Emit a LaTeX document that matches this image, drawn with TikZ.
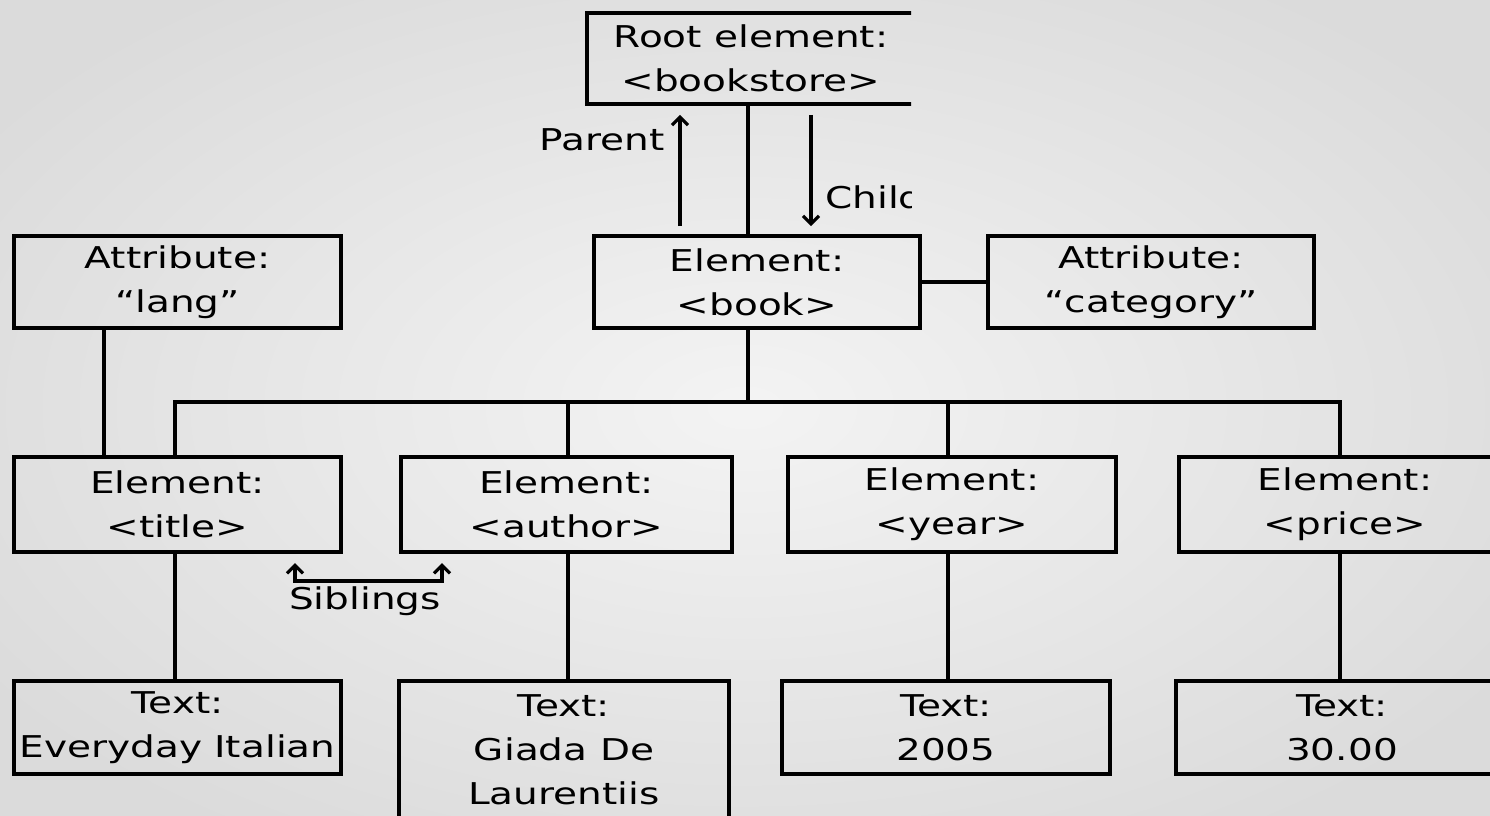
\documentclass[tikz,border=0pt]{standalone}
\usepackage{fontspec}
\newfontfamily\pixfont[FakeStretch=1.3]{DejaVu Sans}
\usetikzlibrary{arrows.meta,positioning}

\begin{document}
\begin{tikzpicture}[x=1pt,y=-1pt,
    box/.style={draw,line width=3.8pt,minimum height=92pt,inner sep=0pt,align=center,font=\pixfont\fontsize{30}{44}\selectfont},
    link/.style={line width=3.8pt},
    tip/.style={line width=3.2pt,-{Straight Barb[length=8pt,width=16pt]}},
    tips/.style={line width=3.2pt,{Straight Barb[length=8pt,width=16pt]}-{Straight Barb[length=8pt,width=16pt]}},
    lbl/.style={font=\pixfont\fontsize{30}{36}\selectfont,inner sep=0pt}]
  \clip (0,0) rectangle (1490,815);
  \shade[inner color=gray!9,outer color=gray!28] (-150,-100) rectangle (1640,915);

  \begin{scope}
    \clip (0,0) rectangle (911,230);
    \node[box,minimum width=328pt,minimum height=91pt] (root) at (751,58.5) {Root element:\\<bookstore>};
    \node[lbl,anchor=west] (child) at (825,197) {Child};
  \end{scope}

  \node[box,minimum width=326pt] (book) at (757,282) {Element:\\<book>};
  \node[box,minimum width=327pt] (lang) at (177.5,282) {Attribute:\\“lang”};
  \node[box,minimum width=326pt] (cat) at (1151,282) {Attribute:\\“category”};

  \foreach \x/\w/\tag [count=\n] in {177.5/327/title,566.5/331/author,952/328/year,1345/332/price}
    \node[box,minimum width=\w pt,minimum height=95pt] (E\n) at (\x,504.5) {Element:\\<\tag>};

  \node[box,minimum width=327pt,minimum height=93pt] (T1) at (177.5,727.5) {Text:\\Everyday Italian};
  \node[box,minimum width=330pt,minimum height=137pt] (T2) at (564,749.5) {Text:\\Giada De\\Laurentiis};
  \node[box,minimum width=328pt,minimum height=93pt] (T3) at (946,727.5) {Text:\\2005};
  \node[box,minimum width=332pt,minimum height=93pt] (T4) at (1342,727.5) {Text:\\30.00};

  \coordinate (bus) at (0,402);
  \coordinate (mx) at (748,0);
  \coordinate (lx) at (104,0);
  \coordinate (px) at (680,0);
  \coordinate (cx) at (811,0);

  \draw[link] (root.south -| mx) -- (book.north -| mx);
  \draw[link] (book.south -| mx) -- (bus -| mx);
  \foreach \x [count=\n] in {175,568,948,1340} {
    \coordinate (L\n) at (\x,402);
    \draw[link] (L\n) -- (E\n.north -| L\n) (E\n.south -| L\n) -- (T\n.north -| L\n);
  }
  \draw[link] (E1.north -| L1) -- (L1) -- (L4) -- (E4.north -| L4);
  \draw[link] (book.east) -- (cat.west);
  \draw[link] (lang.south -| lx) -- (E1.north -| lx);

  \draw[tip,shorten <=8pt,shorten >=9pt] (px |- book.north) -- (px |- root.south);
  \draw[tip,shorten <=9pt,shorten >=8pt] (cx |- root.south) -- (cx |- book.north);
  \node[lbl,anchor=east] (parent) at (665,140) {Parent};

  \coordinate (sibL) at (295,563);
  \coordinate (sibR) at (442,563);
  \coordinate (sibB) at (0,581);
  \draw[tips] (sibL) |- (sibB -| sibR) -- (sibR);
  \node[lbl] (sib) at (365,601) {Siblings};
\end{tikzpicture}
\end{document}
